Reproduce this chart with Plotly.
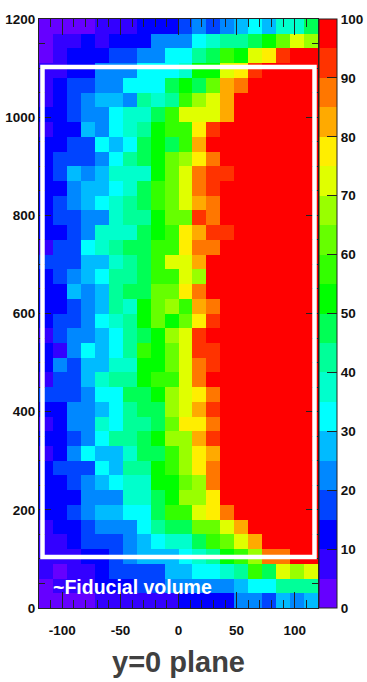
import plotly.graph_objects as go

x_edges = [-120 + 12 * i for i in range(21)]
y_edges = [30 * i for i in range(41)]

# efficiency in percent, rows listed from the top of the chart (y=1170-1200) downwards
efficiency_top_down = [
    [2, 2, 2, 2, 7, 7, 7, 12, 12, 12, 17, 22, 17, 22, 27, 32, 27, 37, 37, 47],
    [2, 7, 7, 12, 7, 12, 12, 12, 22, 22, 22, 32, 37, 42, 42, 47, 52, 62, 72, 67],
    [2, 7, 12, 12, 12, 17, 17, 22, 22, 32, 32, 42, 47, 57, 52, 72, 77, 92, 97, 97],
    [7, 7, 12, 12, 22, 22, 22, 32, 32, 32, 37, 52, 52, 72, 77, 92, 97, 97, 97, 97],
    [7, 12, 17, 17, 22, 22, 32, 32, 32, 47, 52, 47, 62, 82, 87, 97, 97, 97, 97, 97],
    [7, 12, 17, 22, 27, 27, 22, 42, 37, 42, 57, 67, 72, 82, 97, 97, 97, 97, 97, 97],
    [12, 12, 17, 22, 22, 32, 37, 37, 47, 57, 72, 72, 72, 82, 97, 97, 97, 97, 97, 97],
    [7, 12, 12, 27, 22, 32, 37, 42, 52, 57, 57, 77, 92, 97, 97, 97, 97, 97, 97, 97],
    [12, 12, 17, 17, 32, 27, 32, 47, 52, 47, 57, 82, 97, 97, 97, 97, 97, 97, 97, 97],
    [12, 17, 17, 17, 22, 32, 42, 47, 52, 62, 67, 77, 87, 97, 97, 97, 97, 97, 97, 97],
    [12, 17, 27, 22, 27, 37, 37, 37, 52, 62, 72, 87, 92, 92, 97, 97, 97, 97, 97, 97],
    [12, 12, 22, 27, 27, 32, 37, 47, 57, 62, 72, 87, 92, 97, 97, 97, 97, 97, 97, 97],
    [12, 17, 22, 27, 32, 37, 42, 47, 57, 62, 72, 82, 87, 97, 97, 97, 97, 97, 97, 97],
    [12, 17, 17, 22, 22, 37, 42, 42, 52, 62, 62, 92, 87, 97, 97, 97, 97, 97, 97, 97],
    [12, 12, 17, 22, 37, 37, 37, 47, 52, 57, 77, 82, 92, 92, 97, 97, 97, 97, 97, 97],
    [7, 17, 17, 32, 37, 42, 47, 47, 57, 57, 77, 87, 87, 97, 97, 97, 97, 97, 97, 97],
    [17, 17, 17, 27, 27, 37, 42, 47, 57, 72, 72, 82, 97, 97, 97, 97, 97, 97, 97, 97],
    [12, 17, 22, 27, 32, 42, 42, 47, 57, 57, 72, 67, 97, 97, 97, 97, 97, 97, 97, 97],
    [12, 12, 27, 22, 27, 42, 47, 47, 62, 62, 77, 87, 97, 97, 97, 97, 97, 97, 97, 97],
    [12, 12, 17, 22, 27, 42, 37, 52, 62, 67, 57, 82, 87, 97, 97, 97, 97, 97, 97, 97],
    [12, 17, 17, 22, 32, 37, 42, 52, 62, 52, 62, 77, 92, 97, 97, 97, 97, 97, 97, 97],
    [7, 17, 22, 22, 27, 32, 42, 47, 52, 67, 72, 92, 97, 97, 97, 97, 97, 97, 97, 97],
    [12, 7, 22, 32, 27, 32, 42, 57, 52, 62, 72, 92, 92, 97, 97, 97, 97, 97, 97, 97],
    [12, 22, 17, 27, 27, 37, 37, 52, 52, 62, 72, 87, 92, 97, 97, 97, 97, 97, 97, 97],
    [7, 17, 17, 27, 37, 42, 42, 52, 57, 57, 72, 87, 97, 97, 97, 97, 97, 97, 97, 97],
    [17, 17, 17, 22, 32, 32, 47, 47, 52, 67, 72, 77, 87, 97, 97, 97, 97, 97, 97, 97],
    [12, 12, 22, 22, 27, 32, 42, 47, 47, 67, 72, 82, 92, 97, 97, 97, 97, 97, 97, 97],
    [7, 12, 22, 22, 37, 32, 42, 42, 47, 62, 77, 77, 87, 97, 97, 97, 97, 97, 97, 97],
    [12, 12, 17, 22, 32, 42, 42, 47, 52, 67, 67, 82, 92, 97, 97, 97, 97, 97, 97, 97],
    [7, 12, 22, 32, 27, 27, 37, 47, 47, 57, 67, 77, 82, 97, 97, 97, 97, 97, 97, 97],
    [12, 17, 17, 17, 32, 27, 42, 42, 52, 57, 67, 77, 87, 97, 97, 97, 97, 97, 97, 97],
    [12, 12, 17, 22, 27, 32, 37, 37, 52, 52, 62, 67, 87, 97, 97, 97, 97, 97, 97, 97],
    [12, 12, 12, 22, 22, 22, 37, 37, 47, 52, 67, 67, 77, 97, 97, 97, 97, 97, 97, 97],
    [12, 12, 17, 22, 27, 27, 32, 32, 47, 57, 57, 72, 77, 87, 97, 97, 97, 97, 97, 97],
    [7, 12, 12, 17, 22, 22, 22, 32, 42, 47, 47, 62, 62, 72, 82, 97, 97, 97, 97, 97],
    [7, 7, 12, 17, 17, 17, 22, 27, 32, 37, 37, 47, 57, 62, 72, 82, 97, 97, 97, 97],
    [7, 7, 7, 12, 12, 17, 22, 27, 27, 27, 32, 37, 42, 52, 57, 67, 87, 87, 97, 97],
    [7, 2, 7, 7, 12, 17, 17, 17, 17, 27, 27, 32, 32, 37, 42, 57, 47, 72, 67, 72],
    [2, 7, 7, 7, 12, 12, 12, 17, 17, 22, 22, 22, 22, 22, 27, 32, 32, 42, 42, 42],
    [2, 2, 2, 2, 7, 7, 7, 7, 7, 7, 12, 12, 12, 12, 22, 22, 17, 27, 22, 27],
]

band_colors = [
    "#6600ff", "#3300ff", "#0000ff", "#0044ff", "#0088ff",
    "#00bbff", "#00ffff", "#00ffcc", "#00ff99", "#00ff55",
    "#00ff00", "#33ff00", "#66ff00", "#99ff00", "#e0ff00",
    "#ffee00", "#ffaa00", "#ff7700", "#ff3300", "#ff0000",
]

x_tick_vals = [-100, -50, 0, 50, 100]
x_tick_text = ["-100", "-50", "0", "50", "100"]
y_tick_vals = [0, 200, 400, 600, 800, 1000, 1200]
bar_tick_vals = [0, 10, 20, 30, 40, 50, 60, 70, 80, 90, 100]

fiducial_x = [-117, 117]
fiducial_y = [104, 1102]

colorscale = []
n = len(band_colors)
for i, c in enumerate(band_colors):
    colorscale.append([i / n, c])
    colorscale.append([(i + 1) / n, c])

FONT = "Liberation Sans"
tickfont = dict(family=FONT, size=13.5, color="#111111", weight="bold")

fig = go.Figure(
    go.Heatmap(
        x=x_edges,
        y=y_edges,
        z=efficiency_top_down[::-1],
        zmin=0,
        zmax=100,
        colorscale=colorscale,
        xgap=0,
        ygap=0,
        colorbar=dict(
            x=1.0025,
            xanchor="left",
            xpad=0,
            y=0,
            yanchor="bottom",
            ypad=0,
            len=1,
            thickness=18,
            outlinecolor="#222222",
            outlinewidth=1,
            ticks="inside",
            ticklen=10,
            tickcolor="#222222",
            tickvals=bar_tick_vals,
            tickfont=tickfont,
        ),
    )
)

fig.update_layout(
    width=367,
    height=682,
    margin=dict(l=39, r=49, t=19, b=74, autoexpand=False),
    paper_bgcolor="white",
    plot_bgcolor="white",
    xaxis=dict(
        range=[-120, 120],
        showgrid=False,
        zeroline=False,
        showline=True,
        mirror="allticks",
        linecolor="#222222",
        linewidth=1,
        ticks="inside",
        ticklen=16,
        tickcolor="#222222",
        tickvals=x_tick_vals,
        ticktext=x_tick_text,
        tickfont=tickfont,
        ticklabelstandoff=10,
        minor=dict(dtick=10, ticks="inside", ticklen=8, tickcolor="#222222", showgrid=False),
        title=dict(
            text="y=0 plane",
            font=dict(family=FONT, size=29, color="#404040", weight="bold"),
            standoff=14,
        ),
    ),
    yaxis=dict(
        range=[0, 1200],
        showgrid=False,
        zeroline=False,
        showline=True,
        mirror="allticks",
        linecolor="#222222",
        linewidth=1,
        ticks="inside",
        ticklen=12,
        tickcolor="#222222",
        tickvals=y_tick_vals,
        tickfont=tickfont,
        minor=dict(dtick=50, ticks="inside", ticklen=6, tickcolor="#222222", showgrid=False),
    ),
    shapes=[
        dict(
            type="rect",
            xref="x",
            yref="y",
            x0=fiducial_x[0],
            x1=fiducial_x[1],
            y0=fiducial_y[0],
            y1=fiducial_y[1],
            line=dict(color="white", width=4.5),
            layer="above",
        )
    ],
    annotations=[
        dict(
            text="~Fiducial volume",
            xref="x",
            yref="y",
            x=-109.5,
            y=42,
            xanchor="left",
            yanchor="middle",
            showarrow=False,
            font=dict(family=FONT, size=19.5, color="white", weight="bold"),
        )
    ],
)

fig.write_html(
    "out.html",
    config=dict(displayModeBar=False),
    post_script="document.body.style.margin='0';document.documentElement.style.margin='0';",
)
